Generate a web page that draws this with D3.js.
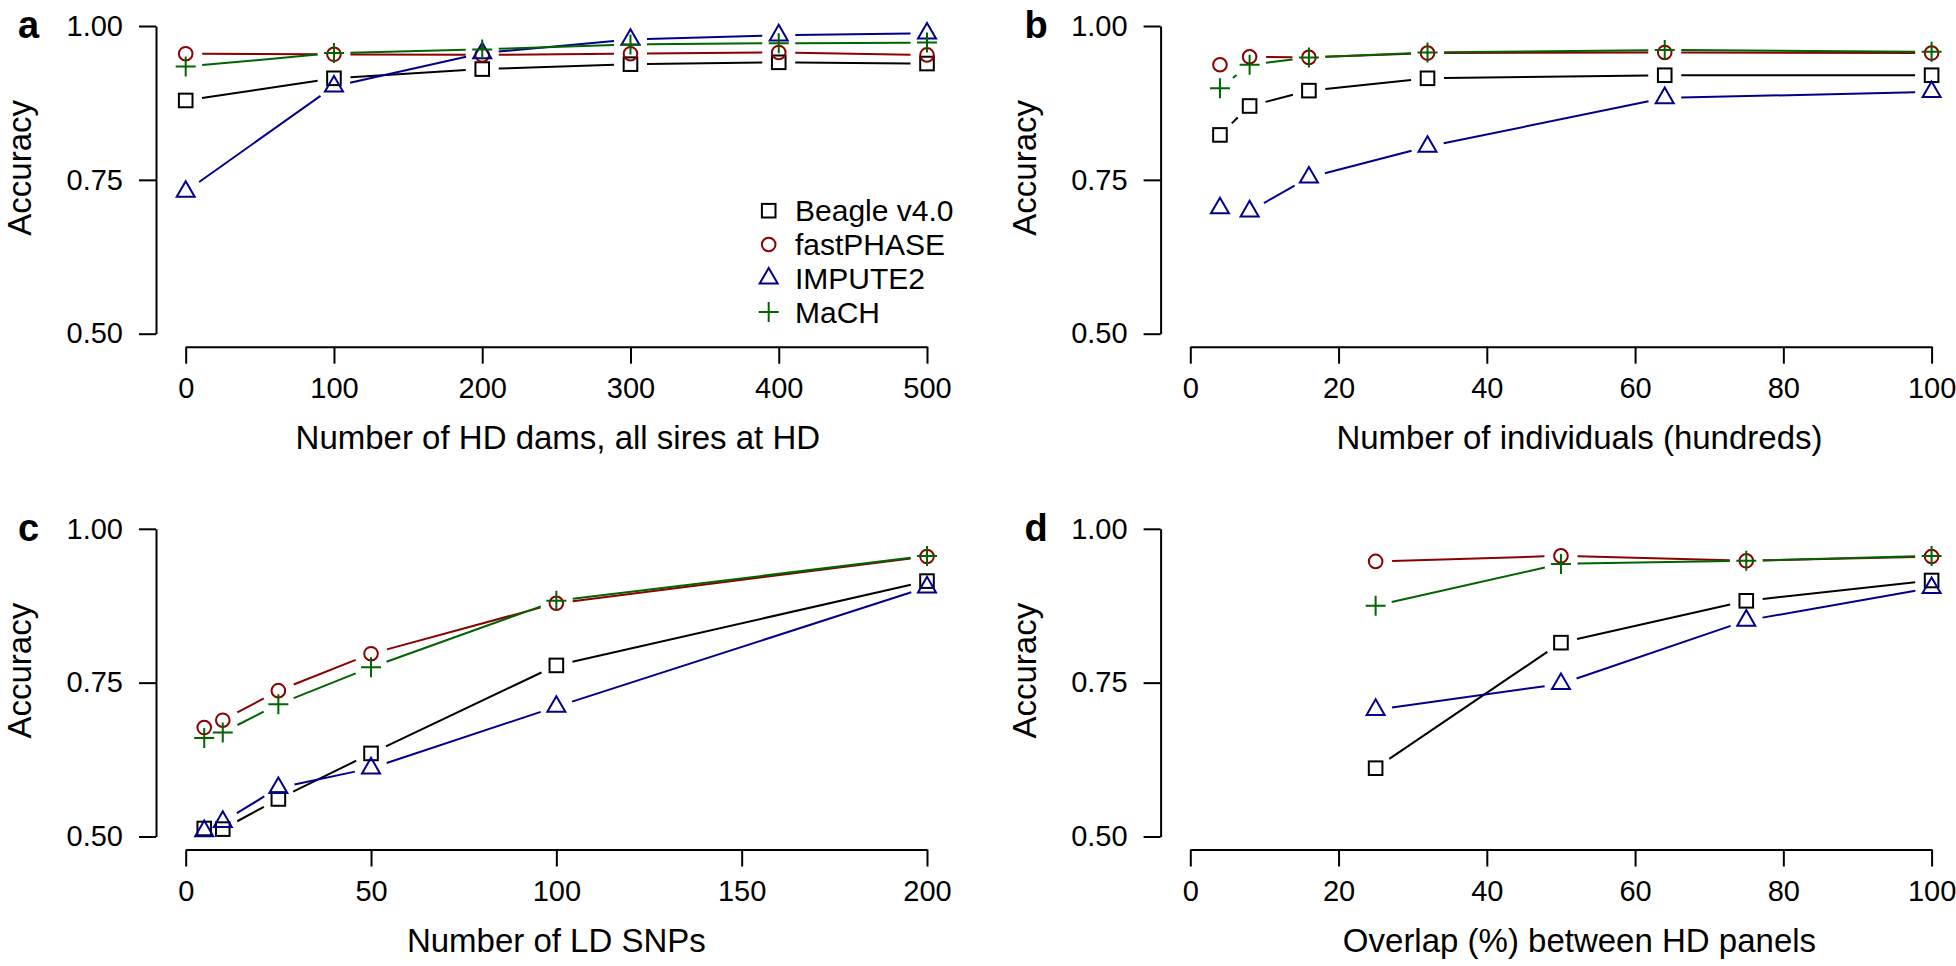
<!DOCTYPE html>
<html>
<head>
<meta charset="utf-8">
<script src="https://cdn.jsdelivr.net/npm/d3@7"></script>
<style>
  html, body { margin: 0; padding: 0; background: #fff; }
</style>
</head>
<body>
<script>
// ---- data ----
const seriesNames = ["Beagle v4.0", "fastPHASE", "IMPUTE2", "MaCH"];
const seriesColors = ["#000000", "#8b0000", "#00008b", "#006400"];
const seriesShapes = ["square", "circle", "triangle", "plus"];

// a: number of HD dams
const damsX = [0, 100, 200, 300, 400, 500];
const damsBeagle = [0.879, 0.915, 0.930, 0.938, 0.941, 0.939];
const damsFastPhase = [0.955, 0.954, 0.953, 0.955, 0.957, 0.953];
const damsImpute2 = [0.731, 0.902, 0.956, 0.978, 0.985, 0.988];
const damsMach = [0.934, 0.956, 0.962, 0.970, 0.972, 0.973];

// b: number of individuals (hundreds)
const indX = [4, 8, 16, 32, 64, 100];
const indBeagle = [0.823, 0.870, 0.895, 0.915, 0.920, 0.920];
const indFastPhase = [0.937, 0.950, 0.949, 0.956, 0.957, 0.956];
const indImpute2 = [0.704, 0.699, 0.754, 0.804, 0.883, 0.893];
const indMach = [0.899, 0.937, 0.949, 0.957, 0.961, 0.958];

// c: number of LD SNPs
const snpX = [5, 10, 25, 50, 100, 200];
const snpBeagle = [0.513, 0.512, 0.561, 0.635, 0.778, 0.915];
const snpFastPhase = [0.677, 0.689, 0.737, 0.797, 0.879, 0.955];
const snpImpute2 = [0.509, 0.524, 0.579, 0.611, 0.711, 0.905];
const snpMach = [0.660, 0.669, 0.715, 0.775, 0.883, 0.956];

// d: overlap between HD panels
const overlapX = [25, 50, 75, 100];
const overlapBeagle = [0.611, 0.815, 0.883, 0.916];
const overlapFastPhase = [0.947, 0.956, 0.948, 0.955];
const overlapImpute2 = [0.706, 0.748, 0.851, 0.904];
const overlapMach = [0.875, 0.943, 0.948, 0.956];

const yTicks = [0.5, 0.75, 1.0];

const panels = [
  {letter: "a", col: 0, row: 0, xs: damsX, ys: [damsBeagle, damsFastPhase, damsImpute2, damsMach],
   xDomain: [0, 500], xTicks: [0, 100, 200, 300, 400, 500], xlabAt: 251,
   xlab: "Number of HD dams, all sires at HD", legend: true},
  {letter: "b", col: 1, row: 0, xs: indX, ys: [indBeagle, indFastPhase, indImpute2, indMach],
   xDomain: [0, 100], xTicks: [0, 20, 40, 60, 80, 100], xlabAt: 52.5,
   xlab: "Number of individuals (hundreds)"},
  {letter: "c", col: 0, row: 1, xs: snpX, ys: [snpBeagle, snpFastPhase, snpImpute2, snpMach],
   xDomain: [0, 200], xTicks: [0, 50, 100, 150, 200], xlabAt: 100,
   xlab: "Number of LD SNPs"},
  {letter: "d", col: 1, row: 1, xs: overlapX, ys: [overlapBeagle, overlapFastPhase, overlapImpute2, overlapMach],
   xDomain: [0, 100], xTicks: [0, 20, 40, 60, 80, 100], xlabAt: 52.5,
   xlab: "Overlap (%) between HD panels"}
];

// ---- layout ----
const width = 1956, height = 966;
const colOffset = 1004.6, rowOffset = 502.8;
const font = "'Liberation Sans', Arial, Helvetica, sans-serif";
const gap = 16.5; // type = "b" gap around points

const svg = d3.select("body").append("svg")
    .attr("width", width)
    .attr("height", height)
    .style("font-family", font);

const symbol = (g, shape, color) => {
  if (shape === "square") {
    g.append("rect").attr("x", -6.8).attr("y", -6.8).attr("width", 13.6).attr("height", 13.6)
      .attr("fill", "none").attr("stroke", color).attr("stroke-width", 2);
  } else if (shape === "circle") {
    g.append("circle").attr("r", 6.8)
      .attr("fill", "none").attr("stroke", color).attr("stroke-width", 2);
  } else if (shape === "triangle") {
    g.append("path").attr("d", "M0,-10.4L9,5.2L-9,5.2Z")
      .attr("fill", "none").attr("stroke", color).attr("stroke-width", 2);
  } else {
    g.append("path").attr("d", "M-10,0H10M0,-10V10")
      .attr("fill", "none").attr("stroke", color).attr("stroke-width", 2);
  }
};

panels.forEach(p => {
  const ox = p.col * colOffset, oy = p.row * rowOffset;
  const x = d3.scaleLinear().domain(p.xDomain).range([185.7 + ox, 927 + ox]);
  const y = d3.scaleLinear().domain([0.5, 1.0]).range([333.7 + oy, 26 + oy]);
  const yAxisX = 156 + ox, xAxisY = 346.7 + oy;

  const g = svg.append("g");

  // y axis
  const ya = g.append("g")
      .attr("transform", `translate(${yAxisX},0)`)
      .call(d3.axisLeft(y).tickValues(yTicks).tickFormat(d3.format(".2f"))
        .tickSize(17).tickSizeOuter(0).tickPadding(16));
  // x axis
  const xa = g.append("g")
      .attr("transform", `translate(0,${xAxisY})`)
      .call(d3.axisBottom(x).tickValues(p.xTicks).tickFormat(d3.format("d"))
        .tickSize(17).tickSizeOuter(0).tickPadding(14));

  [ya, xa].forEach(a => {
    a.attr("font-size", 29).attr("font-family", font);
    a.selectAll("path, line").attr("stroke", "#000").attr("stroke-width", 2);
    a.selectAll("text").attr("fill", "#000");
  });

  // axis titles
  g.append("text")
      .attr("transform", `translate(${yAxisX - 125},${y(0.75) - 12}) rotate(-90)`)
      .attr("text-anchor", "middle")
      .attr("font-size", 33)
      .text("Accuracy");
  g.append("text")
      .attr("x", x(p.xlabAt))
      .attr("y", xAxisY + 102)
      .attr("text-anchor", "middle")
      .attr("font-size", 33)
      .text(p.xlab);

  // panel letter
  g.append("text")
      .attr("x", 18 + ox + (p.col ? 2 : 0))
      .attr("y", 38 + oy)
      .attr("font-size", 38)
      .attr("font-weight", "bold")
      .text(p.letter);

  // series
  p.ys.forEach((vals, si) => {
    const color = seriesColors[si];
    const pts = p.xs.map((xv, i) => [x(xv), y(vals[i])]);
    const segs = d3.pairs(pts).map(([a, b]) => {
      const dx = b[0] - a[0], dy = b[1] - a[1];
      const len = Math.hypot(dx, dy);
      if (len <= 2 * gap) return null;
      const ux = dx / len, uy = dy / len;
      return [a[0] + ux * gap, a[1] + uy * gap, b[0] - ux * gap, b[1] - uy * gap];
    }).filter(s => s);

    g.append("g").selectAll("line")
      .data(segs)
      .join("line")
        .attr("x1", d => d[0]).attr("y1", d => d[1])
        .attr("x2", d => d[2]).attr("y2", d => d[3])
        .attr("stroke", color)
        .attr("stroke-width", 2);

    g.append("g").selectAll("g")
      .data(pts)
      .join("g")
        .attr("transform", d => `translate(${d[0]},${d[1]})`)
        .each(function() { symbol(d3.select(this), seriesShapes[si], color); });
  });

  // legend
  if (p.legend) {
    const lg = g.append("g");
    seriesNames.forEach((name, i) => {
      const row = lg.append("g").attr("transform", `translate(768.7,${210.7 + i * 33.8})`);
      symbol(row, seriesShapes[i], seriesColors[i]);
      row.append("text")
          .attr("x", 26.3)
          .attr("dy", "0.35em")
          .attr("font-size", 30)
          .text(name);
    });
  }
});
</script>
</body>
</html>
